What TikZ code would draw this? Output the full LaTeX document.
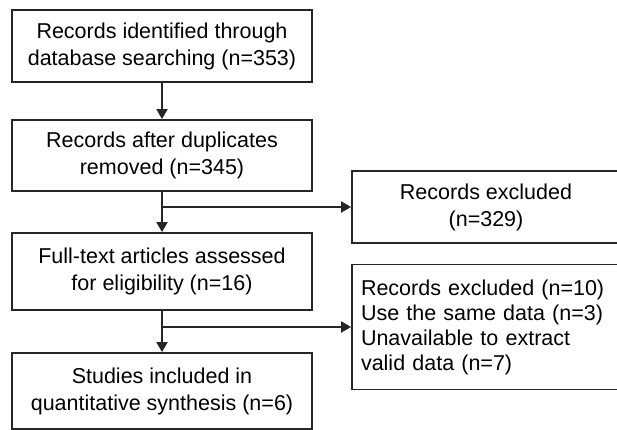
\documentclass[tikz,border=0pt]{standalone}
\usepackage{fontspec}
\setmainfont{Liberation Sans}
\usetikzlibrary{arrows.meta}
\begin{document}
\begin{tikzpicture}[x=1pt,y=-1pt,
  box/.style={draw=black!85,line width=1.8pt,rectangle,inner sep=0pt,
    minimum width=300pt,align=center,
    font=\fontsize{21.5}{27}\selectfont},
  sidebox/.style={box,minimum width=268pt},
  arr/.style={draw=black!85,line width=1.8pt,-{Triangle[length=10pt,width=11pt]}}]
\useasboundingbox (0,0) rectangle (617,430);
\clip (0,0) rectangle (617,430);
\node[box,minimum height=72pt] (b1) at (162,46) {Records identified through\\database searching (n=353)};
\node[box,minimum height=71pt] (b2) at (162,155.5) {Records after duplicates\\removed (n=345)};
\node[box,minimum height=77pt] (b3) at (162,271.5) {Full-text articles assessed\\for eligibility (n=16)};
\node[box,minimum height=76pt] (b4) at (162,391) {Studies included in\\quantitative synthesis (n=6)};
\node[sidebox,minimum height=72pt] (e1) at (486,207) {Records excluded\\(n=329)};
\node[sidebox,minimum height=125pt,text width=250pt,align=left,
  font=\fontsize{21.5}{25}\selectfont] (e2) at (486,327) {Records excluded (n=10)\\Use the same data (n=3)\\Unavailable to extract\\valid data (n=7)};
\coordinate (c1) at (b2.south |- e1.west);
\coordinate (c2) at (b3.south |- e2.west);
\draw[arr] (b1) -- (b2);
\draw[arr] (b2) -- (b3);
\draw[arr] (b3) -- (b4);
\draw[arr] (c1) -- (e1.west);
\draw[arr] (c2) -- (e2.west);
\end{tikzpicture}
\end{document}
